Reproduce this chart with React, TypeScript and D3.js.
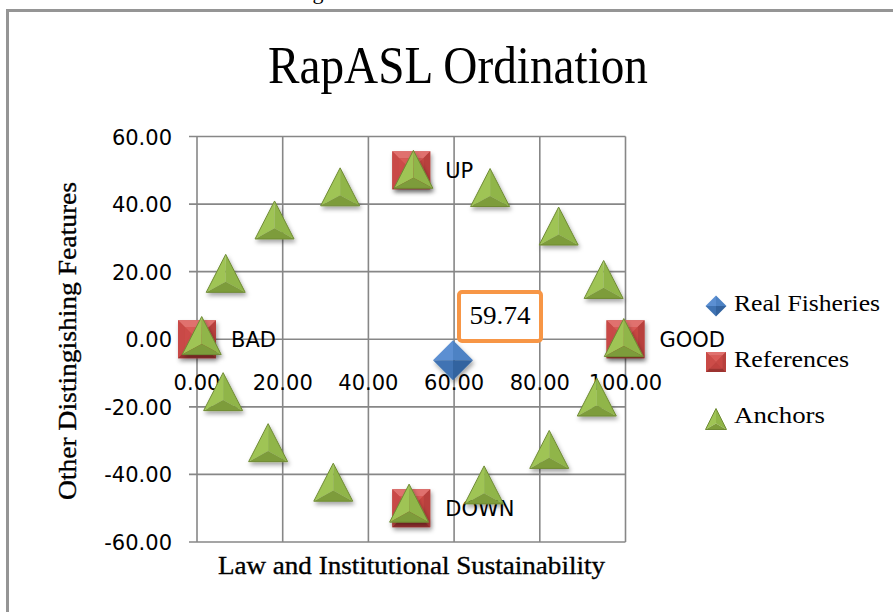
import React from "react";
import * as d3 from "d3";

const xTicks = [0, 20, 40, 60, 80, 100];
const yTicks = [60, 40, 20, 0, -20, -40, -60];

const fisheriesX = [59.74];
const fisheriesY = [-6.2];

const refX = [0, 100, 50, 50];
const refY = [0, 0, 50, -50];
const refLabels = ["BAD", "GOOD", "UP", "DOWN"];

const anchorX = [1.1, 6.7, 18.1, 33.4, 50.5, 68.4, 84.4, 94.9, 99.6, 93.3, 82.2, 67.0, 49.5, 31.8, 16.6, 6.1];
const anchorY = [1.1, 19.5, 35.3, 45.1, 50.3, 44.9, 33.5, 17.7, 0.5, -17.1, -32.6, -43.1, -48.5, -42.3, -30.6, -15.5];

const legendItems = ["Real Fisheries", "References", "Anchors"];

const W = 893;
const H = 612;

const x = d3.scaleLinear().domain([0, 100]).range([197, 625.5]);
const y = d3.scaleLinear().domain([-60, 60]).range([542, 136.5]);

const fmt = (v: number) => v.toFixed(2);
const serif = "'Liberation Serif', 'DejaVu Serif', serif";
const sans = "'DejaVu Sans', sans-serif";

function Square({ cx, cy, s, shadow = true }: { cx: number; cy: number; s: number; shadow?: boolean }) {
  const h = s / 2;
  const i = s * 0.18;
  const L = cx - h, R = cx + h, T = cy - h, B = cy + h;
  const il = L + i, ir = R - i, it = T + i, ib = B - i;
  return (
    <g filter={shadow ? "url(#shadow)" : undefined}>
      <rect x={L} y={T} width={s} height={s} fill="#c0504d" />
      <path d={`M${L},${T}L${R},${T}L${ir},${it}L${il},${it}Z`} fill="#e0716e" />
      <path d={`M${L},${T}L${il},${it}L${il},${ib}L${L},${B}Z`} fill="#c94a46" />
      <path d={`M${R},${T}L${ir},${it}L${ir},${ib}L${R},${B}Z`} fill="#b8403c" />
      <path d={`M${L},${B}L${il},${ib}L${ir},${ib}L${R},${B}Z`} fill="#9c3330" />
      <path d={`M${il},${it}L${ir},${it}L${cx},${cy}Z`} fill="#d95a56" />
      <path d={`M${il},${ib}L${ir},${ib}L${cx},${cy}Z`} fill="#c0423f" />
      <path d={`M${il},${it}L${il},${ib}L${cx},${cy}Z`} fill="#cc4c48" />
      <path d={`M${ir},${it}L${ir},${ib}L${cx},${cy}Z`} fill="#c84743" />
    </g>
  );
}

function Triangle({ cx, cy, w, hgt, shadow = true }: { cx: number; cy: number; w: number; hgt: number; shadow?: boolean }) {
  const top: [number, number] = [cx, cy - hgt / 2];
  const bl: [number, number] = [cx - w / 2, cy + hgt / 2];
  const br: [number, number] = [cx + w / 2, cy + hgt / 2];
  const c: [number, number] = [cx, cy + hgt * 0.22];
  const p = (a: [number, number]) => `${a[0]},${a[1]}`;
  return (
    <g filter={shadow ? "url(#shadow)" : undefined}>
      <path d={`M${p(top)}L${p(bl)}L${p(c)}Z`} fill="#9fc455" />
      <path d={`M${p(top)}L${p(br)}L${p(c)}Z`} fill="#90b548" />
      <path d={`M${p(bl)}L${p(br)}L${p(c)}Z`} fill="#7d9c3a" />
      <path d={`M${p(top)}L${p(bl)}L${p(br)}Z`} fill="none" stroke="#6f8b34" strokeWidth={1} />
    </g>
  );
}

function Diamond({ cx, cy, s, shadow = true }: { cx: number; cy: number; s: number; shadow?: boolean }) {
  const h = s / 2;
  return (
    <g filter={shadow ? "url(#shadow)" : undefined}>
      <path d={`M${cx},${cy - h}L${cx - h},${cy}L${cx},${cy}Z`} fill="#5b8fd2" />
      <path d={`M${cx},${cy - h}L${cx + h},${cy}L${cx},${cy}Z`} fill="#4d82c4" />
      <path d={`M${cx - h},${cy}L${cx},${cy + h}L${cx},${cy}Z`} fill="#3f73b3" />
      <path d={`M${cx + h},${cy}L${cx},${cy + h}L${cx},${cy}Z`} fill="#33639f" />
    </g>
  );
}

export default function App() {
  return (
    <svg width={W} height={H} style={{ position: "absolute", left: 0, top: 0, background: "#fff" }}>
      <defs>
        <filter id="shadow" x="-30%" y="-30%" width="170%" height="170%">
          <feDropShadow dx="1.5" dy="3" stdDeviation="2" floodColor="#000" floodOpacity="0.35" />
        </filter>
      </defs>
      <rect x={0} y={0} width={W} height={H} fill="#fff" />
      {/* clipped caption fragment above */}
      <text x={318} y={-1.5} fontFamily={serif} fontSize={22} textAnchor="middle" fill="#000">g</text>
      {/* outer frame */}
      <line x1={7.5} x2={7.5} y1={10} y2={H} stroke="#959595" strokeWidth={3} />
      <line x1={6} x2={W} y1={10.5} y2={10.5} stroke="#959595" strokeWidth={3} />

      {/* title */}
      <text x={458} y={83} fontFamily={serif} fontSize={52} textAnchor="middle" textLength={380} lengthAdjust="spacingAndGlyphs" fill="#000">
        RapASL Ordination
      </text>

      {/* gridlines */}
      {yTicks.map((t) => (
        <line key={"h" + t} x1={189} x2={x(100)} y1={y(t)} y2={y(t)} stroke="#878787" strokeWidth={1.6} />
      ))}
      {xTicks.map((t) => (
        <line key={"v" + t} x1={x(t)} x2={x(t)} y1={y(60)} y2={y(-60)} stroke="#878787" strokeWidth={1.6} />
      ))}

      {/* y tick labels */}
      {yTicks.map((t) => (
        <text key={"yl" + t} x={172} y={y(t) + 8} fontFamily={sans} fontSize={21} textAnchor="end" fill="#000">
          {fmt(t)}
        </text>
      ))}
      {/* x tick labels */}
      {xTicks.map((t) => (
        <text key={"xl" + t} x={x(t)} y={390} fontFamily={sans} fontSize={21} textAnchor="middle" fill="#000">
          {fmt(t)}
        </text>
      ))}

      {/* axis titles */}
      <text x={411.5} y={574} fontFamily={serif} fontSize={26} textAnchor="middle" textLength={387} lengthAdjust="spacingAndGlyphs" fill="#000" stroke="#000" strokeWidth={0.35}>
        Law and Institutional Sustainability
      </text>
      <text transform="translate(76,341) rotate(-90)" fontFamily={serif} fontSize={26} textAnchor="middle" textLength={318} lengthAdjust="spacingAndGlyphs" fill="#000" stroke="#000" strokeWidth={0.35}>
        Other Distingishing Features
      </text>

      {/* Real fisheries */}
      {fisheriesX.map((v, i) => (
        <Diamond key={"f" + i} cx={x(v)} cy={y(fisheriesY[i])} s={40} />
      ))}

      {/* references */}
      {refX.map((v, i) => (
        <Square key={"r" + i} cx={x(v)} cy={y(refY[i])} s={38} />
      ))}
      {refX.map((v, i) => (
        <text key={"rl" + i} x={x(v) + 34} y={y(refY[i]) + 8} fontFamily={sans} fontSize={21} fill="#000">
          {refLabels[i]}
        </text>
      ))}

      {/* anchors */}
      {anchorX.map((v, i) => (
        <Triangle key={"a" + i} cx={x(v)} cy={y(anchorY[i])} w={39} hgt={38} />
      ))}

      {/* value label box */}
      <rect x={459} y={292} width={82} height={49} rx={3} fill="#fff" stroke="#f79646" strokeWidth={4} />
      <text x={500} y={324} fontFamily={serif} fontSize={26} textAnchor="middle" textLength={61} lengthAdjust="spacingAndGlyphs" fill="#000">
        {fisheriesX[0].toFixed(2)}
      </text>

      {/* legend */}
      <Diamond cx={716} cy={306} s={21} shadow={false} />
      <Square cx={716} cy={362} s={20} shadow={false} />
      <Triangle cx={716} cy={419} w={21} hgt={21} shadow={false} />
      {legendItems.map((t, i) => (
        <text key={"lg" + i} x={734} y={[311, 367, 423][i]} fontFamily={serif} fontSize={24} fill="#000"
          textLength={[146, 115, 91][i]} lengthAdjust="spacingAndGlyphs">
          {t}
        </text>
      ))}
    </svg>
  );
}
